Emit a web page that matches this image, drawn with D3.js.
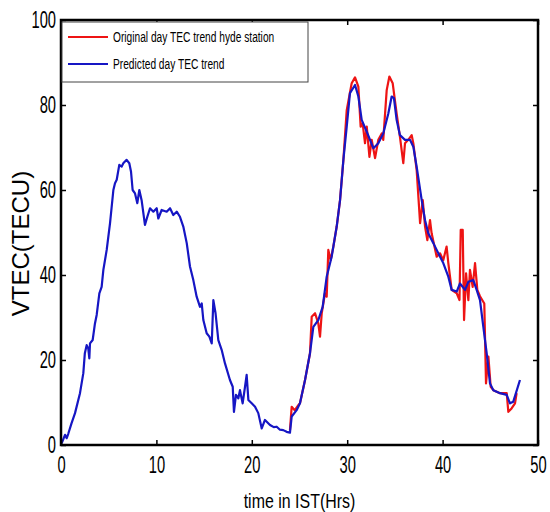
<!DOCTYPE html>
<html>
<head>
<meta charset="utf-8">
<script src="https://cdn.jsdelivr.net/npm/d3@7"></script>
<style>
  body { margin: 0; background: #fff; }
  text { font-family: "Liberation Sans", Arial, sans-serif; }
</style>
</head>
<body>
<div id="chart"></div>
<script>
// hours (IST) and VTEC for the predicted trend (blue)
var predHours = [0.07, 0.42, 0.6, 0.77, 1.1, 1.47, 1.99, 2.34, 2.5, 2.69, 2.86, 2.97, 3.04, 3.32, 3.56, 3.74, 4.02, 4.26, 4.44, 4.79,
  5.14, 5.49, 5.66, 5.84, 6.11, 6.36, 6.53, 6.88, 7.16, 7.34, 7.51, 7.76, 8.0, 8.21, 8.45, 8.8, 9.05, 9.33, 9.68, 10.03,
  10.2, 10.55, 11.08, 11.43, 11.77, 12.13, 12.47, 12.82, 13.18, 13.52, 13.87, 14.22, 14.57, 14.75, 14.92, 15.27, 15.55, 15.8, 15.97, 16.2,
  16.49, 16.84, 17.19, 17.71, 18.0, 18.13, 18.34, 18.59, 18.76, 19.04, 19.29, 19.46, 19.64, 19.99, 20.34, 20.68, 21.04, 21.38, 21.91, 22.3,
  22.61, 22.95, 23.3, 23.65, 24.0, 24.18, 24.7, 25.05, 25.58, 26.1, 26.45, 26.97, 27.43, 27.85, 28.37, 28.9, 29.25, 29.6, 29.95, 30.29,
  30.82, 31.17, 31.52, 32.05, 32.75, 33.26, 33.78, 34.31, 34.66, 34.9, 35.18, 35.53, 36.06, 36.58, 36.93, 37.28, 37.81, 38.16, 38.5, 39.03,
  39.55, 40.07, 40.6, 40.95, 41.48, 41.82, 42.35, 42.7, 43.22, 43.57, 43.92, 44.27, 44.62, 44.97, 45.32, 46.02, 46.72, 47.06, 47.41, 48.11];
var predTec = [0.4, 2.4, 1.6, 2.7, 5.1, 7.5, 12.2, 16.9, 21.6, 23.5, 22.7, 20.4, 23.9, 24.7, 28.6, 30.6, 35.7, 37.2, 41.2, 45.9,
  52.2, 60, 61.6, 62.4, 65.9, 65.5, 66.3, 67.1, 66.3, 64.3, 60, 59.2, 56.9, 60, 57.6, 51.8, 53.7, 55.7, 54.9, 55.7,
  53.3, 55.3, 54.9, 55.7, 54.1, 54.9, 53.7, 51.4, 47.5, 42, 38.8, 34.9, 32.5, 33.3, 29.4, 26.3, 25.5, 23.9, 34.1, 31,
  24.7, 22.4, 19.2, 15.3, 13.7, 7.8, 11.8, 11, 12.9, 9.8, 13.7, 16.5, 10.6, 9.8, 9, 7.5, 3.9, 5.9, 4.7, 4.2,
  4.3, 3.6, 3.5, 3.1, 2.9, 6.7, 8.2, 9.8, 15.3, 21.6, 27.8, 29.4, 32.5, 39.6, 44.3, 51.4, 57.6, 67.1, 74.9, 82.8,
  84.7, 82, 76.5, 73.7, 69.8, 71, 73.3, 78, 82, 81.6, 76.5, 72.9, 71.8, 71.8, 70.2, 65.5, 57.6, 52.9, 49.8, 47.5,
  45.1, 42.8, 39.6, 36.5, 36.1, 38, 36.5, 38.4, 38.8, 36.5, 34.1, 27.8, 21.6, 14.5, 12.9, 12.2, 11.8, 9.8, 10.2, 15.3];

// hours and VTEC for the observed trend at the station (red)
var origHours = [24.0, 24.18, 24.5, 24.88, 25.05, 25.58, 26.1, 26.28, 26.63, 26.97, 27.15, 27.33, 27.67, 27.85, 28.02, 28.27, 28.55, 28.9, 29.25, 29.6,
  29.95, 30.47, 30.82, 31.17, 31.41, 31.62, 31.87, 32.05, 32.33, 32.57, 32.92, 33.26, 33.62, 33.78, 34.14, 34.42, 34.77, 35.18, 35.53, 35.88,
  36.06, 36.4, 36.76, 36.93, 37.28, 37.64, 37.92, 38.16, 38.4, 38.68, 38.85, 39.38, 39.73, 40.07, 40.42, 40.6, 40.95, 41.48, 41.77, 41.9,
  42.11, 42.25, 42.46, 42.7, 42.87, 43.15, 43.4, 43.64, 43.92, 44.37, 44.55, 44.8, 45.04, 45.32, 46.02, 46.72, 46.89, 47.23, 47.59, 47.76];
var origTec = [3.5, 9, 8.2, 9.4, 9.8, 15.3, 21.6, 30.2, 31, 28.6, 25.5, 31, 35.7, 34.9, 45.9, 43.5, 46.7, 51.4, 57.6, 67.1,
  78.8, 85.1, 86.5, 84.3, 74.9, 75.7, 71, 74.9, 67.8, 71.8, 67.5, 71.8, 73.3, 71.8, 83.5, 86.7, 85.1, 78, 72.5, 66.3,
  71, 71.8, 72.9, 71, 64.7, 52.2, 57.6, 51.4, 48.2, 52.9, 49.8, 44.3, 45.1, 43.5, 46.7, 42.8, 36.5, 35.7, 34.1, 50.6,
  50.6, 29.4, 40.4, 34.1, 41.2, 37.2, 42.8, 36.5, 35, 33.3, 14.5, 20.8, 13.7, 12.9, 12.2, 12.2, 7.8, 8.6, 9.8, 12.2];

var xTicks = [0, 10, 20, 30, 40, 50];
var yTicks = [0, 20, 40, 60, 80, 100];
var legendLabels = ["Original day TEC trend hyde station", "Predicted day TEC trend"];

var svgWidth = 550;
var svgHeight = 512;
var margin = { top: 20, right: 12, bottom: 67, left: 61 };
var width = svgWidth - margin.left - margin.right;
var height = svgHeight - margin.top - margin.bottom;

// the figure text is narrow, so squeeze it horizontally
var squeeze = 0.64;

var svg = d3.select("#chart")
  .append("svg")
  .attr("width", svgWidth)
  .attr("height", svgHeight);

var chartGroup = svg.append("g")
  .attr("transform", `translate(${margin.left}, ${margin.top})`);

var xScale = d3.scaleLinear().domain([0, 50]).range([0, width]);
var yScale = d3.scaleLinear().domain([0, 100]).range([height, 0]);

var origData = origHours.map((h, i) => ({ x: h, y: origTec[i] }));
var predData = predHours.map((h, i) => ({ x: h, y: predTec[i] }));

var line = d3.line()
  .x(d => xScale(d.x))
  .y(d => yScale(d.y));

chartGroup.append("path")
  .datum(origData)
  .attr("d", line)
  .attr("fill", "none")
  .attr("stroke", "#ee1414")
  .attr("stroke-width", 2.2)
  .attr("stroke-linejoin", "round");

chartGroup.append("path")
  .datum(predData)
  .attr("d", line)
  .attr("fill", "none")
  .attr("stroke", "#1616c4")
  .attr("stroke-width", 2.2)
  .attr("stroke-linejoin", "round");

// axes, matlab-style ticks pointing inward on all four sides
function styleAxis(g) {
  g.select(".domain").remove();
  g.selectAll("line").attr("stroke", "#000").attr("stroke-width", 1.5);
  g.selectAll("text")
    .attr("font-size", 23)
    .attr("fill", "#000")
    .attr("x", function() { return (+d3.select(this).attr("x") || 0) / squeeze; })
    .attr("transform", `scale(${squeeze}, 1)`);
}

chartGroup.append("g")
  .attr("transform", `translate(0, ${height})`)
  .call(d3.axisBottom(xScale).tickValues(xTicks).tickSizeInner(-5).tickSizeOuter(0).tickPadding(12))
  .call(styleAxis);

chartGroup.append("g")
  .call(d3.axisLeft(yScale).tickValues(yTicks).tickSizeInner(-5).tickSizeOuter(0).tickPadding(5))
  .call(styleAxis);

chartGroup.append("g")
  .call(d3.axisTop(xScale).tickValues(xTicks).tickSizeInner(-5).tickSizeOuter(0).tickFormat(""))
  .call(styleAxis);

chartGroup.append("g")
  .attr("transform", `translate(${width}, 0)`)
  .call(d3.axisRight(yScale).tickValues(yTicks).tickSizeInner(-5).tickSizeOuter(0).tickFormat(""))
  .call(styleAxis);

chartGroup.append("rect")
  .attr("width", width)
  .attr("height", height)
  .attr("fill", "none")
  .attr("stroke", "#000")
  .attr("stroke-width", 2.5);

// legend
var legend = chartGroup.append("g").attr("transform", "translate(1, 2)");
legend.append("rect")
  .attr("width", 246)
  .attr("height", 60)
  .attr("fill", "#fff")
  .attr("stroke", "#444")
  .attr("stroke-width", 1);

var legendColors = ["#ee1414", "#1616c4"];
legendLabels.forEach(function(label, i) {
  var y = 15 + i * 27;
  legend.append("line")
    .attr("x1", 6).attr("x2", 46)
    .attr("y1", y).attr("y2", y)
    .attr("stroke", legendColors[i])
    .attr("stroke-width", 2);
  legend.append("text")
    .attr("transform", `translate(51, ${y + 5}) scale(0.68, 1)`)
    .attr("font-size", 15)
    .text(label);
});

// axis labels
chartGroup.append("text")
  .attr("transform", `translate(${width / 2}, ${height + 63}) scale(0.76, 1)`)
  .attr("text-anchor", "middle")
  .attr("font-size", 21)
  .text("time in IST(Hrs)");

chartGroup.append("text")
  .attr("transform", `translate(-32, ${height / 2 + 11}) rotate(-90)`)
  .attr("text-anchor", "middle")
  .attr("font-size", 24)
  .text("VTEC(TECU)");
</script>
</body>
</html>
